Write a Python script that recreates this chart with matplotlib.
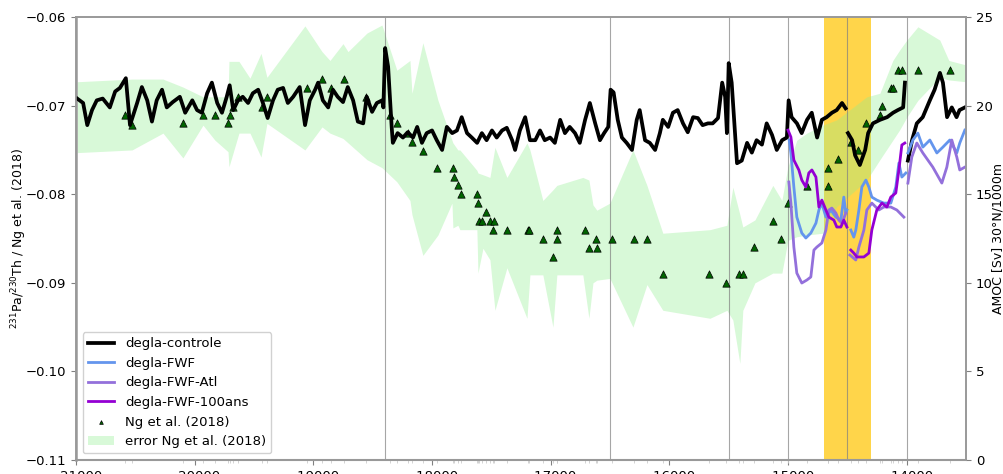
import numpy as np
import matplotlib
matplotlib.use("Agg")
import matplotlib.pyplot as plt

nan = np.nan

# degla-controle, AMOC [Sv] (right axis); nan = restart between runs
ctrl_t = [-20990, -20940, -20905, -20865, -20825, -20775, -20715, -20670, -20630, -20580,
          -20545, -20485, -20445, -20400, -20360, -20320, -20275, -20235, -20185, -20125,
          -20080, -20020, -19980, -19940, -19895, -19855, -19810, -19770, -19730, -19705,
          -19675, -19635, -19595, -19550, -19510, -19465, -19425, -19385, -19340, -19300,
          -19255, -19215, -19170, -19115, -19070, -19030, -18985, -18960, -18920, -18875,
          -18835, -18795, -18750, -18710, -18665, -18625, -18580, -18550, -18505, -18465,
          -18420, -18410,
          -18395, -18370, -18340, -18330, -18290, -18245, -18205, -18160, -18125, -18085,
          -18045, -18000, -17960, -17915, -17875, -17830, -17790, -17750, -17705, -17665,
          -17620, -17580, -17540, -17495, -17455, -17410, -17370, -17325, -17300, -17260,
          -17215, -17175, -17130, -17090, -17050, -17005, -16965, -16920, -16880, -16840,
          -16795, -16755, -16710, -16670, -16625, -16585, -16550, -16515,
          -16495, -16470, -16435, -16400, -16360, -16315, -16275, -16250, -16205, -16165,
          -16120, -16080, -16055, -16010, -15970, -15930, -15885, -15845, -15800, -15760,
          -15720, -15675, -15635, -15590, -15555, -15530, -15515,
          -15500, -15475, -15430, -15390, -15345, -15305, -15265, -15220, -15180, -15135,
          -15095, -15050, -15010,
          -14995, -14970, -14925, -14885, -14840, -14800, -14755, -14715, -14675, -14630,
          -14590, -14545, -14515, nan,
          -14495, -14460, -14435, -14395, -14350, -14325, -14285, -14225, -14165, -14115,
          -14075, -14030, -14015, nan,
          -13990, -13955, -13915, -13865, -13805, -13765, -13720, -13695, -13660, -13620,
          -13580, -13555, -13510]
ctrl_amoc = [20.4, 20.15, 18.9, 19.75, 20.3, 20.4, 19.9, 20.8, 21.0, 21.55,
             18.9, 20.15, 21.05, 20.3, 19.1, 20.3, 20.9, 19.9, 20.2, 20.5,
             19.6, 20.3, 19.75, 19.6, 20.7, 21.3, 20.15, 19.6, 20.5, 21.15,
             19.75, 20.3, 20.5, 20.15, 20.7, 20.9, 20.15, 19.3, 20.3, 20.9,
             21.0, 20.15, 20.5, 21.05, 18.9, 20.3, 20.9, 21.3, 20.3, 19.9,
             20.9, 20.5, 20.2, 21.05, 20.3, 19.1, 19.0, 20.5, 19.65, 20.15,
             20.3, 19.9,
             23.25, 22.2, 18.8, 17.9, 18.45, 18.2, 18.5, 18.2, 18.8, 17.9,
             18.45, 18.6, 18.05, 17.5, 18.8, 18.45, 18.6, 19.35, 18.45, 18.2,
             17.9, 18.45, 18.05, 18.6, 18.2, 18.6, 18.75, 18.05, 17.5, 18.6,
             19.35, 18.05, 18.05, 18.6, 18.05, 18.2, 17.9, 19.2, 18.45, 18.8,
             18.45, 17.9, 19.2, 20.15, 19.0, 18.05, 18.45, 18.8,
             20.9, 20.75, 19.2, 18.2, 17.9, 17.5, 19.2, 19.75, 18.05, 17.9,
             17.5, 18.45, 19.2, 18.8, 19.6, 19.75, 19.0, 18.5, 19.35, 19.3,
             18.9, 19.0, 19.0, 19.3, 21.3, 20.5, 18.45,
             22.4, 21.3, 16.75, 16.9, 17.9, 17.35, 18.05, 17.8, 19.0, 18.35,
             17.5, 18.05, 18.2,
             20.3, 19.35, 19.0, 18.45, 19.2, 19.6, 18.2, 19.2, 19.35, 19.6,
             19.75, 20.15, 19.85, nan,
             18.45, 18.05, 17.2, 16.65, 17.5, 18.45, 19.0, 19.2, 19.35, 19.6,
             19.75, 19.9, 21.3, nan,
             16.9, 18.05, 19.0, 19.35, 20.3, 20.9, 21.85, 21.3, 19.35, 19.9,
             19.35, 19.75, 19.9]

# degla-FWF
fwf_t = [-14990, -14976, -14951, -14926, -14884, -14850, -14808, -14765, -14740, -14715,
         -14681, -14639, -14597, -14555, -14530, -14513, -14504, nan,
         -14471, -14446, -14429, -14403, -14378, -14344, -14319, -14294, -14252, -14193,
         -14134, -14092, -14066, -14041, -14007, nan,
         -13990, -13948, -13906, -13864, -13805, -13746, -13695, -13637, -13578, -13553, -13510]
fwf_amoc = [18.06, 17.33, 15.41, 13.71, 12.81, 12.53, 12.81, 13.37, 14.11, 14.50,
            13.71, 14.11, 13.71, 13.54, 14.84, 13.94, 14.11, nan,
            12.98, 12.58, 12.98, 14.11, 15.41, 15.80, 15.41, 14.84, 14.67, 14.50,
            14.50, 15.41, 16.76, 15.97, 16.20, nan,
            17.33, 18.06, 18.45, 17.66, 18.06, 17.33, 17.66, 18.06, 17.33, 17.89, 18.62]

# degla-FWF-Atl
atl_t = [-14993, -14976, -14951, -14926, -14884, -14841, -14808, -14782, -14757, -14715,
         -14681, -14656, -14631, -14597, -14572, -14546, -14513, nan,
         -14479, -14429, -14403, -14361, -14336, -14294, -14235, -14193, -14134, -14083,
         -14024, nan,
         -13990, -13957, -13915, -13864, -13780, -13704, -13662, -13620, -13578, -13553, -13510]
atl_amoc = [15.69, 14.50, 12.02, 10.55, 9.99, 10.16, 10.33, 11.85, 12.02, 12.25,
            12.98, 14.11, 14.22, 13.94, 13.54, 13.37, 13.94, nan,
            11.57, 11.29, 12.02, 12.98, 14.11, 14.50, 14.11, 14.28, 14.28, 14.11,
            13.71, nan,
            15.63, 17.10, 17.89, 17.33, 16.53, 15.63, 16.53, 18.06, 17.10, 16.37, 16.53]

# degla-FWF-100ans
ans_t = [-15000, -14976, -14951, -14909, -14884, -14850, -14825, -14799, -14765, -14740,
         -14715, -14681, -14656, -14614, -14589, -14555, -14530, -14504, nan,
         -14471, -14446, -14420, -14361, -14319, -14294, -14252, -14209, -14167, -14134,
         -14092, -14066, -14041, -14016]
ans_amoc = [18.62, 18.23, 16.93, 16.37, 15.80, 15.41, 16.20, 16.37, 15.97, 14.28,
            14.67, 14.11, 13.71, 13.54, 13.15, 13.15, 13.54, 13.15, nan,
            11.85, 11.68, 11.46, 11.46, 11.68, 12.98, 14.11, 14.50, 14.28, 14.84,
            15.07, 16.37, 17.78, 17.89]

# Ng et al. (2018) Pa/Th
ng_t = [-20587, -20528, -20099, -19930, -19829, -19719, -19703, -19677, -19635, -19433,
        -19391, -19054, -18927, -18852, -18742, -18557, -18355, -18296, -18203, -18169,
        -18077, -17959, -17824, -17815, -17782, -17756, -17622, -17613, -17605, -17579,
        -17546, -17512, -17487, -17478, -17369, -17192, -17183, -17066, -16981, -16948,
        -16948, -16712, -16678, -16619, -16611, -16484, -16299, -16189, -16055, -15667,
        -15524, -15414, -15381, -15288, -15128, -15060, -15001, -14841, -14664, -14664,
        -14580, -14471, -14412, -14344, -14226, -14209, -14133, -14117, -14075, -14041,
        -13906, -13637]
ng_pa = [-0.0711, -0.0722, -0.0720, -0.0711, -0.0711, -0.0720, -0.0711, -0.0702, -0.0690, -0.0702,
         -0.0690, -0.0680, -0.0670, -0.0680, -0.0670, -0.0690, -0.0711, -0.0720, -0.0731, -0.0741,
         -0.0751, -0.0770, -0.0770, -0.0781, -0.0790, -0.0800, -0.0800, -0.0810, -0.0830, -0.0830,
         -0.0820, -0.0830, -0.0840, -0.0830, -0.0840, -0.0840, -0.0840, -0.0850, -0.0871, -0.0840,
         -0.0850, -0.0840, -0.0861, -0.0850, -0.0861, -0.0850, -0.0850, -0.0850, -0.0890, -0.0890,
         -0.0900, -0.0890, -0.0890, -0.0860, -0.0830, -0.0850, -0.0810, -0.0791, -0.0791, -0.0770,
         -0.0760, -0.0741, -0.0750, -0.0720, -0.0711, -0.0700, -0.0680, -0.0680, -0.0660, -0.0660,
         -0.0660, -0.0660]

# error envelope Ng et al. (2018)
err_t = [-20990, -20528, -20267, -20099, -19930, -19829, -19719, -19711, -19627, -19534,
         -19441, -19391, -19071, -18927, -18860, -18750, -18708, -18548, -18422, -18296,
         -18186, -18169, -18077, -17950, -17832, -17824, -17782, -17765, -17622, -17613,
         -17571, -17512, -17470, -17369, -17200, -17175, -17066, -16981, -16948, -16729,
         -16678, -16644, -16611, -16501, -16307, -16189, -16055, -15658, -15515, -15465,
         -15406, -15381, -15279, -15128, -15052, -15001, -14926, -14841, -14707, -14589,
         -14336, -14226, -14117, -14058, -13999, -13906, -13721, -13645, -13502]
err_hi = [-0.0673, -0.0670, -0.0670, -0.0679, -0.0690, -0.0690, -0.0690, -0.0650, -0.0650, -0.0669,
          -0.0641, -0.0668, -0.0610, -0.0639, -0.0649, -0.0630, -0.0639, -0.0618, -0.0609, -0.0660,
          -0.0649, -0.0686, -0.0629, -0.0694, -0.0739, -0.0742, -0.0750, -0.0750, -0.0773, -0.0776,
          -0.0778, -0.0781, -0.0747, -0.0781, -0.0742, -0.0750, -0.0807, -0.0795, -0.0790, -0.0781,
          -0.0784, -0.0812, -0.0818, -0.0810, -0.0750, -0.0790, -0.0844, -0.0840, -0.0835, -0.0792,
          -0.0823, -0.0837, -0.0829, -0.0790, -0.0807, -0.0769, -0.0739, -0.0731, -0.0722, -0.0716,
          -0.0690, -0.0686, -0.0649, -0.0637, -0.0626, -0.0611, -0.0626, -0.0649, -0.0654]
err_lo = [-0.0753, -0.0750, -0.0731, -0.0759, -0.0722, -0.0739, -0.0752, -0.0769, -0.0731, -0.0731,
          -0.0758, -0.0720, -0.0750, -0.0724, -0.0731, -0.0737, -0.0742, -0.0761, -0.0770, -0.0786,
          -0.0807, -0.0823, -0.0869, -0.0846, -0.0810, -0.0838, -0.0835, -0.0840, -0.0840, -0.0889,
          -0.0861, -0.0874, -0.0931, -0.0883, -0.0940, -0.0891, -0.0891, -0.0950, -0.0891, -0.0891,
          -0.0940, -0.0900, -0.0897, -0.0895, -0.0950, -0.0902, -0.0931, -0.0940, -0.0931, -0.0942,
          -0.0991, -0.0931, -0.0900, -0.0889, -0.0889, -0.0852, -0.0848, -0.0846, -0.0844, -0.0814,
          -0.0784, -0.0761, -0.0739, -0.0727, -0.0713, -0.0694, -0.0668, -0.0671, -0.0673]

xticks = [-21000, -20000, -19000, -18000, -17000, -16000, -15000, -14000]
vlines = [-18400, -16500, -15500, -15000, -14500, -14000]

plt.rcParams['font.family'] = ['DejaVu Sans']
fig = plt.figure(figsize=(10.04, 4.74), dpi=100)
ax = fig.add_axes([0.0757, 0.0295, 0.8865, 0.9345])
ax2 = ax.twinx()

ax.axvspan(-14700, -14300, color='#ffd54a', zorder=0, lw=0)
err = ax.fill_between(err_t, err_lo, err_hi, color='lightgreen', alpha=0.35, lw=0,
                      label='error Ng et al. (2018)', zorder=1)
ng = ax.scatter(ng_t, ng_pa, marker='^', s=28, c='darkgreen', edgecolors='black',
                linewidths=0.5, label='Ng et al. (2018)', zorder=3)
for v in vlines:
    ax.axvline(v, color='gray', lw=0.8, alpha=0.7, zorder=2)

l1, = ax2.plot(ctrl_t, ctrl_amoc, color='black', lw=2.7, label='degla-controle')
l2, = ax2.plot(fwf_t, fwf_amoc, color='cornflowerblue', lw=2, label='degla-FWF')
l3, = ax2.plot(atl_t, atl_amoc, color='mediumpurple', lw=2, label='degla-FWF-Atl')
l4, = ax2.plot(ans_t, ans_amoc, color='darkviolet', lw=2, label='degla-FWF-100ans')

ax.set_xlim(-21000, -13500)
ax.set_ylim(-0.11, -0.06)
ax2.set_ylim(0, 25)
ax.set_xticks(xticks)
ax.set_xticks(ng_t, minor=True)
ax.tick_params(axis='x', which='minor', length=2, color='0.8')
ax.set_yticks([-0.11, -0.10, -0.09, -0.08, -0.07, -0.06])
ax.set_yticklabels(['\u22120.11', '\u22120.10', '\u22120.09', '\u22120.08', '\u22120.07', '\u22120.06'])
ax2.set_yticks([0, 5, 10, 15, 20, 25])
ax.tick_params(labelsize=9.5, color='0.5')
ax2.tick_params(labelsize=9.5, color='0.5')

ax.set_ylabel('$^{231}$Pa/$^{230}$Th / Ng et al. (2018)', fontsize=9)
ax2.set_ylabel('AMOC [Sv] 30\u00b0N/1000m', fontsize=9)
ax.yaxis.set_label_coords(-0.053, 0.5)
ax2.yaxis.set_label_coords(1.029, 0.5)

for a in (ax, ax2):
    for s in a.spines.values():
        s.set_color('0.6')
        s.set_linewidth(1.2)
ax.spines['left'].set_linewidth(1.8)
ax.spines['bottom'].set_linewidth(1.5)

ax2.legend([l1, l2, l3, l4, ng, err],
           ['degla-controle', 'degla-FWF', 'degla-FWF-Atl', 'degla-FWF-100ans',
            'Ng et al. (2018)', 'error Ng et al. (2018)'],
           loc='lower left', fontsize=9.5, markerscale=0.5, framealpha=0.9)

fig.savefig('out.png', dpi=100)
